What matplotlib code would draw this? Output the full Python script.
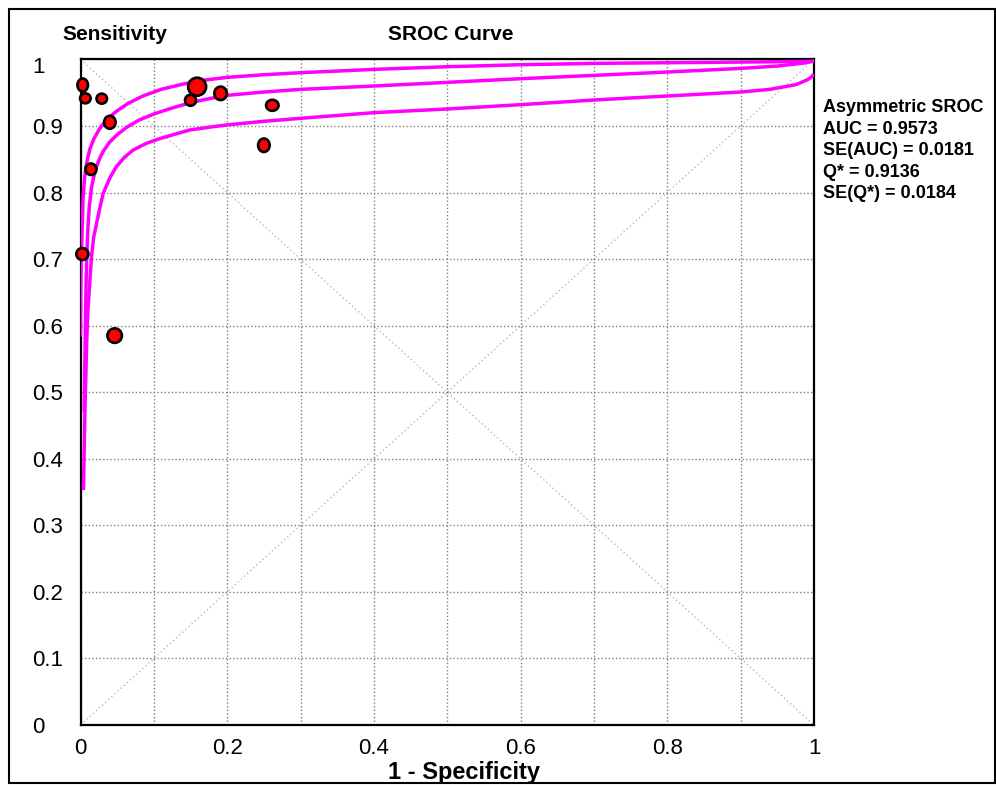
import numpy as np
import matplotlib
matplotlib.use("Agg")
import matplotlib.pyplot as plt
from matplotlib.patches import Ellipse, Rectangle
from matplotlib.transforms import ScaledTranslation

# --- study estimates (1 - specificity, sensitivity) ---
study_fpr = [0.003, 0.0066, 0.029, 0.040, 0.0143, 0.0025, 0.0466,
             0.159, 0.150, 0.191, 0.2615, 0.250]
study_sens = [0.9615, 0.9415, 0.941, 0.9055, 0.835, 0.7076, 0.585,
              0.959, 0.9386, 0.949, 0.931, 0.871]

# --- SROC curve and its upper / lower bands ---
upper_fpr = [0.0, 0.0003, 0.001, 0.002, 0.0034, 0.005, 0.007, 0.010,
             0.013, 0.018, 0.026, 0.036, 0.049, 0.065, 0.085, 0.11,
             0.14, 0.17, 0.20, 0.25, 0.30, 0.40, 0.50, 0.60, 0.70,
             0.80, 0.90, 1.0]
upper_sens = [0.583, 0.649, 0.70, 0.735, 0.79, 0.815, 0.835, 0.853,
              0.866, 0.88, 0.896, 0.91, 0.922, 0.934, 0.945, 0.955,
              0.963, 0.969, 0.973, 0.977, 0.980, 0.985, 0.989, 0.992,
              0.994, 0.995, 0.996, 0.997]

mid_fpr = [0.005, 0.006, 0.007, 0.0085, 0.010, 0.012, 0.015, 0.020,
           0.026, 0.031, 0.040, 0.050, 0.063, 0.080, 0.10, 0.125,
           0.15, 0.175, 0.20, 0.25, 0.30, 0.40, 0.50, 0.60, 0.70,
           0.80, 0.90, 0.95, 0.99, 1.0]
mid_sens = [0.47, 0.548, 0.628, 0.704, 0.745, 0.779, 0.808, 0.833,
            0.851, 0.862, 0.876, 0.887, 0.898, 0.909, 0.918, 0.927,
            0.935, 0.941, 0.946, 0.951, 0.955, 0.960, 0.9655, 0.971,
            0.976, 0.981, 0.9865, 0.990, 0.995, 0.998]

lower_fpr = [0.004, 0.006, 0.0085, 0.010, 0.012, 0.015, 0.018, 0.022,
             0.026, 0.031, 0.040, 0.049, 0.060, 0.072, 0.090, 0.108,
             0.13, 0.149, 0.175, 0.199, 0.25, 0.30, 0.40, 0.50, 0.60,
             0.70, 0.80, 0.90, 0.94, 0.96, 0.975, 0.985, 0.992, 0.997,
             1.0]
lower_sens = [0.353, 0.47, 0.578, 0.62, 0.654, 0.704, 0.733, 0.754,
              0.775, 0.799, 0.822, 0.839, 0.853, 0.864, 0.874, 0.881,
              0.888, 0.894, 0.898, 0.9015, 0.907, 0.9115, 0.920, 0.9255,
              0.932, 0.939, 0.945, 0.951, 0.955, 0.959, 0.962, 0.9665,
              0.970, 0.974, 0.978]

stats_lines = ["Asymmetric SROC", "AUC = 0.9573", "SE(AUC) = 0.0181",
               "Q* = 0.9136", "SE(Q*) = 0.0184"]

# marker sizes in pixels (width, height), scaled by study weight
marker_w_px = [10.5, 10.5, 10.5, 11.5, 11, 12, 14.5, 18, 11, 12.5, 12.5, 11.5]
marker_h_px = [13, 10, 10, 13, 11.5, 12, 14.5, 18, 11, 13.5, 11, 13.5]

plt.rcParams["font.family"] = ["Liberation Sans", "DejaVu Sans"]

W, H = 996, 787
fig = plt.figure(figsize=(W / 100, H / 100), dpi=100)
ax = fig.add_axes([80.5 / W, 62 / H, 733.5 / W, 665.6 / H])
ax.set_xlim(0, 1)
ax.set_ylim(0, 1)

# reference diagonals
ax.plot([0, 1], [0, 1], color="#b8b8b8", lw=1.0, ls=(0, (1, 2)), zorder=1)
ax.plot([0, 1], [1, 0], color="#b8b8b8", lw=1.0, ls=(0, (1, 2)), zorder=1)

ax.set_xticks(np.arange(0, 1.01, 0.2))
ax.set_xticks(np.arange(0.1, 1.0, 0.2), minor=True)
ax.set_xticklabels(["0", "0.2", "0.4", "0.6", "0.8", "1"])
ax.set_yticks(np.arange(0, 1.01, 0.1))
ax.set_yticklabels(["0", "0.1", "0.2", "0.3", "0.4", "0.5",
                    "0.6", "0.7", "0.8", "0.9", "1"])
ax.grid(True, which="both", color="#808080", lw=1.0, ls=(0, (1, 1.6)), zorder=1)
ax.tick_params(axis="both", which="both", length=0, labelsize=16)
ax.tick_params(axis="x", pad=9)
ax.tick_params(axis="y", pad=35)
for lab in ax.get_yticklabels():
    lab.set_horizontalalignment("left")
# top label sits a little lower, clear of the header
top_lab = ax.get_yticklabels()[-1]
top_lab.set_transform(top_lab.get_transform()
                      + ScaledTranslation(0, -0.06, fig.dpi_scale_trans))

for s in ax.spines.values():
    s.set_linewidth(1.6)
    s.set_color("black")

curve_kw = dict(color="#ff00ff", lw=2.5, solid_joinstyle="round",
                solid_capstyle="butt", zorder=3)
ax.plot(upper_fpr, upper_sens, **curve_kw)
ax.plot(mid_fpr, mid_sens, **curve_kw)
ax.plot(lower_fpr, lower_sens, **curve_kw)

# study markers, sized in pixels
px_x = 733.5
px_y = 665.6
for fx, sy, w, h in zip(study_fpr, study_sens, marker_w_px, marker_h_px):
    ax.add_patch(Ellipse((fx, sy), w / px_x, h / px_y,
                         facecolor="#ff0000", edgecolor="black", lw=1.9,
                         zorder=4, clip_on=False))

fig.text(114.5 / W, 1 - 35 / H, "Sensitivity", ha="center", va="center",
         fontsize=15, fontweight="bold")
fig.text(450.5 / W, 1 - 35 / H, "SROC Curve", ha="center", va="center",
         fontsize=15, fontweight="bold")
fig.text(464 / W, 1 - 772 / H, "1 - Specificity", ha="center", va="center",
         fontsize=17, fontweight="bold")

for i, line in enumerate(stats_lines):
    fig.text(823 / W, 1 - (108 + 21.4 * i) / H, line, ha="left", va="center",
             fontsize=13, fontweight="bold")

# outer frame around the whole chart
fig.add_artist(Rectangle((8.5 / W, 4 / H), 986 / W, 774 / H,
                         transform=fig.transFigure, fill=False,
                         edgecolor="black", lw=1.5))

fig.savefig("out.png", dpi=100)
